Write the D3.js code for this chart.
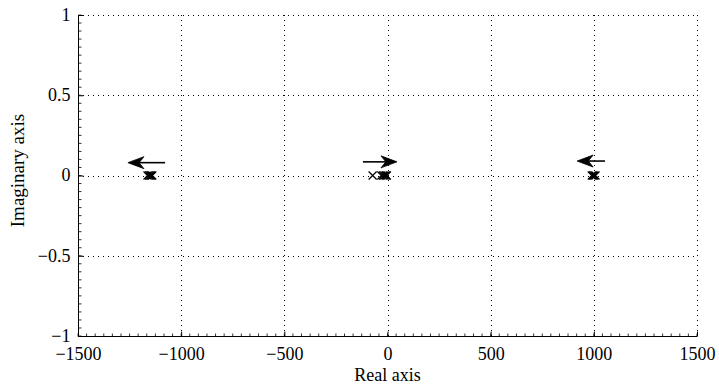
<!DOCTYPE html>
<html>
<head>
<meta charset="utf-8">
<script src="https://cdn.jsdelivr.net/npm/d3@7"></script>
<style>
  html, body { margin: 0; padding: 0; background: #fff; }
  svg { display: block; }
  svg text { font-family: "Liberation Serif", "Times New Roman", serif !important; fill: #000; }
</style>
</head>
<body>
<svg id="chart" width="719" height="386"></svg>
<script>
// Root-locus style pole/zero plot: pole locations on the real axis with motion arrows
const xTicks = [-1500, -1000, -500, 0, 500, 1000, 1500];
const yTicks = [-1, -0.5, 0, 0.5, 1];
const xTickLabels = ["\u22121500", "\u22121000", "\u2212500", "0", "500", "1000", "1500"];
const yTickLabels = ["\u22121", "\u22120.5", "0", "0.5", "1"];

// Pole real parts (all lying on the imaginary-zero line)
const poleRe = [-1163, -1156, -1150, -1145, -1140, -72, -30, -22, -15, -8, -3, 990, 996, 1002, 1008];
const poleIm = [0, 0, 0, 0, 0, 0, 0, 0, 0, 0, 0, 0, 0, 0, 0];

// Direction arrows: start/end real coordinate and imaginary height
const arrowFromRe = [-1078, -119, 1054];
const arrowToRe = [-1258, 46, 919];
const arrowIm = [0.08, 0.085, 0.09];

const svg = d3.select("#chart");
const margin = { left: 78, top: 15, right: 22, bottom: 50 };
const W = 719, H = 386;
const x = d3.scaleLinear().domain([-1500, 1500]).range([margin.left, W - margin.right]);
const y = d3.scaleLinear().domain([-1, 1]).range([H - margin.bottom, margin.top]);

// Dotted grid
const grid = svg.append("g");
grid.selectAll(".gx").data(xTicks.filter(d => d !== -1500)).enter().append("line")
  .attr("x1", d => Math.round(x(d)) + 0.5).attr("x2", d => Math.round(x(d)) + 0.5)
  .attr("y1", y(-1)).attr("y2", y(1))
  .attr("stroke", "#000").attr("stroke-width", 1).attr("stroke-dasharray", "1,4");
grid.selectAll(".gy").data(yTicks.filter(d => d !== -1)).enter().append("line")
  .attr("y1", d => Math.round(y(d)) + 0.5).attr("y2", d => Math.round(y(d)) + 0.5)
  .attr("x1", x(-1500)).attr("x2", x(1500))
  .attr("stroke", "#000").attr("stroke-width", 1).attr("stroke-dasharray", "1,4");

// Axes with inward ticks
const xAxis = d3.axisBottom(x).tickValues(xTicks).tickSize(-5).tickPadding(10)
  .tickFormat((d, i) => xTickLabels[i]);
const yAxis = d3.axisLeft(y).tickValues(yTicks).tickSize(-5).tickPadding(8)
  .tickFormat((d, i) => yTickLabels[i]);

const gx = svg.append("g").attr("transform", `translate(0,${Math.round(y(-1)) + 0.5})`).call(xAxis);
const gy = svg.append("g").attr("transform", `translate(${Math.round(x(-1500)) + 0.5},0)`).call(yAxis);
[gx, gy].forEach(g => {
  g.attr("font-family", "Liberation Serif").attr("font-size", 18);
  g.select(".domain").attr("stroke", "#000").attr("stroke-width", 1)
    .attr("d", g === gx ? `M${x(-1500)},0H${x(1500)}` : `M0,${y(-1)}V${y(1)}`);
  g.selectAll(".tick line").attr("stroke", "#000");
  g.selectAll(".tick text").attr("font-family", "Liberation Serif").attr("font-size", 18);
});
gx.selectAll(".tick text").attr("dy", "0.75em");
gy.selectAll(".tick text").attr("dy", "0.3em");

// Minor ticks
const minorX = d3.range(-1500, 1500.1, 500 / 12);
const minorY = d3.range(-1, 1.0001, 0.05);
gx.selectAll(".mx").data(minorX).enter().append("line")
  .attr("x1", d => x(d)).attr("x2", d => x(d)).attr("y1", 0).attr("y2", -3)
  .attr("stroke", "#000").attr("stroke-width", 0.8);
gy.selectAll(".my").data(minorY).enter().append("line")
  .attr("y1", d => y(d)).attr("y2", d => y(d)).attr("x1", 0).attr("x2", 3)
  .attr("stroke", "#000").attr("stroke-width", 0.8);

// Axis titles
svg.append("text").attr("x", x(0)).attr("y", 381).attr("text-anchor", "middle")
  .attr("font-size", 18).text("Real axis");
svg.append("text").attr("transform", `translate(24,${y(0) - 5}) rotate(-90)`)
  .attr("text-anchor", "middle").attr("font-size", 19).text("Imaginary axis");

// Pole markers (x)
const s = 4;
const marks = svg.append("g");
poleRe.forEach((re, i) => {
  const cx = x(re), cy = y(poleIm[i]);
  marks.append("path")
    .attr("d", `M${cx - s},${cy - s}L${cx + s},${cy + s}M${cx - s},${cy + s}L${cx + s},${cy - s}`)
    .attr("stroke", "#000").attr("stroke-width", 1.2).attr("fill", "none");
});

// Direction arrows
const arrows = svg.append("g");
arrowFromRe.forEach((r0, i) => {
  const x0 = x(r0), x1 = x(arrowToRe[i]), yy = y(arrowIm[i]);
  const dir = Math.sign(x1 - x0);
  const L = 16, Wd = 6;
  arrows.append("line").attr("x1", x0).attr("x2", x1 - dir * 8).attr("y1", yy).attr("y2", yy)
    .attr("stroke", "#000").attr("stroke-width", 1.6);
  arrows.append("path")
    .attr("d", `M${x1},${yy}L${x1 - dir * L},${yy - Wd}L${x1 - dir * L * 0.7},${yy}L${x1 - dir * L},${yy + Wd}Z`)
    .attr("fill", "#000").attr("stroke", "#000").attr("stroke-width", 0.8);
});
</script>
</body>
</html>
